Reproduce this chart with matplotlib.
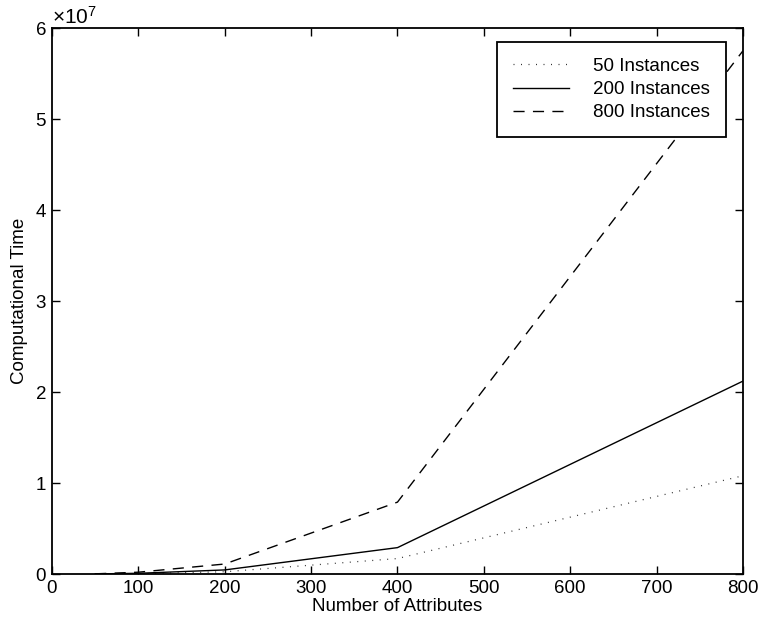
import matplotlib
matplotlib.use("Agg")
import matplotlib.pyplot as plt
from matplotlib.ticker import ScalarFormatter

plt.rcParams["font.family"] = ["Liberation Sans", "DejaVu Sans"]
plt.rcParams["mathtext.fontset"] = "custom"
plt.rcParams["mathtext.rm"] = "Liberation Sans"
plt.rcParams["mathtext.it"] = "Liberation Sans"

# ── Data ─────────────────────────────────────────────────────────
attributes = [50, 100, 200, 400, 800]
inst_50 = [0.0, 0.03e6, 0.25e6, 1.7e6, 10.8e6]
inst_200 = [0.01e6, 0.08e6, 0.45e6, 2.9e6, 21.2e6]
inst_800 = [0.02e6, 0.2e6, 1.1e6, 7.9e6, 57.5e6]
labels = ["50 Instances", "200 Instances", "800 Instances"]

FS = 13.5

fig = plt.figure(figsize=(7.6, 6.24), dpi=100)
ax = fig.add_axes([0.0684, 0.0801, 0.9092, 0.875])

ax.plot(attributes, inst_50, color="#333333", lw=0.9, linestyle=(0, (0.8, 5.2)), label=labels[0])
ax.plot(attributes, inst_200, color="black", lw=1.0, linestyle="-", label=labels[1])
ax.plot(attributes, inst_800, color="black", lw=1.0, linestyle=(0, (8, 6)), label=labels[2])

ax.set_xlim(0, 800)
ax.set_ylim(0, 6e7)
ax.set_xticks(range(0, 801, 100))
ax.set_yticks([i * 1e7 for i in range(7)])

fmt = ScalarFormatter(useMathText=True)
fmt.set_powerlimits((0, 0))
ax.yaxis.set_major_formatter(fmt)
ax.yaxis.get_offset_text().set_fontsize(15)

ax.tick_params(direction="in", top=True, right=True, length=6, width=1,
               labelsize=FS, pad=4)
for sp in ax.spines.values():
    sp.set_linewidth(1.3)

ax.set_xlabel("Number of Attributes", fontsize=FS, labelpad=1)
ax.set_ylabel("Computational Time", fontsize=FS, labelpad=5)

leg = ax.legend(loc="upper right", bbox_to_anchor=(0.9754, 0.9744), borderaxespad=0,
                fontsize=FS, fancybox=False, framealpha=1, edgecolor="black",
                handlelength=3.0, handletextpad=1.3, borderpad=0.85,
                labelspacing=0.32)
leg.get_frame().set_linewidth(1.3)

fig.savefig("out.png", dpi=100)
